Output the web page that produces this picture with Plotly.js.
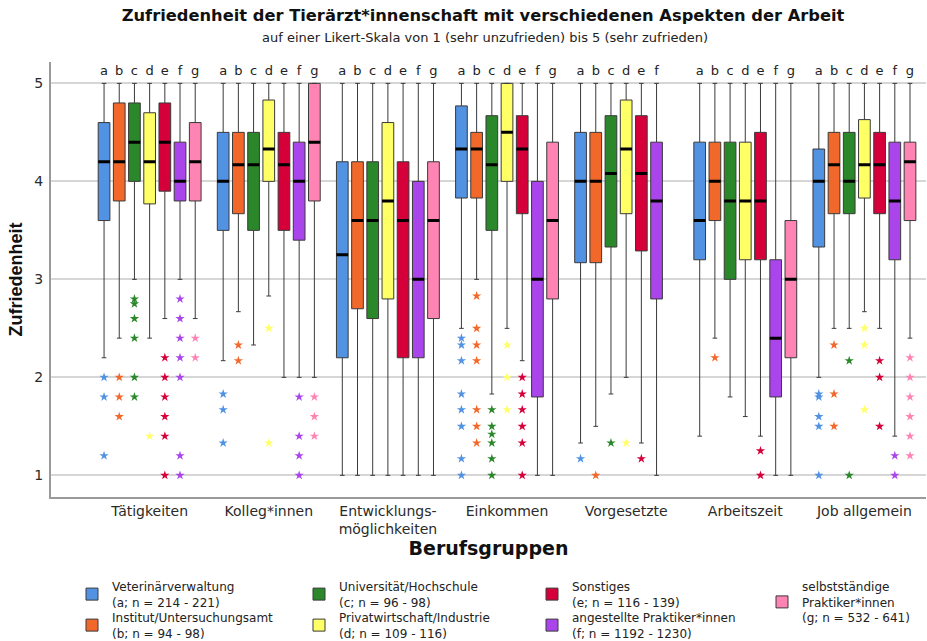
<!DOCTYPE html>
<html>
<head>
<meta charset="utf-8">
<script src="https://cdn.plot.ly/plotly-3.0.1.min.js"></script>
<style>
html, body { margin: 0; padding: 0; background: #ffffff; }
#chart { width: 927px; height: 641px; }
</style>
</head>
<body>
<div id="chart"></div>
<script>
// ---------- data ----------
const categories = ['Tätigkeiten', 'Kolleg*innen', 'Entwicklungsmöglichkeiten', 'Einkommen', 'Vorgesetzte', 'Arbeitszeit', 'Job allgemein'];
const tickLabels = ['Tätigkeiten', 'Kolleg*innen', 'Entwicklungs-<br>möglichkeiten', 'Einkommen', 'Vorgesetzte', 'Arbeitszeit', 'Job allgemein'];
const groupLetters = ['a', 'b', 'c', 'd', 'e', 'f', 'g'];
const groupNames = [
  'Veterinärverwaltung<br>(a; n = 214 - 221)',
  'Institut/Untersuchungsamt<br>(b; n = 94 - 98)',
  'Universität/Hochschule<br>(c; n = 96 - 98)',
  'Privatwirtschaft/Industrie<br>(d; n = 109 - 116)',
  'Sonstiges<br>(e; n = 116 - 139)',
  'angestellte Praktiker*innen<br>(f; n = 1192 - 1230)',
  'selbstständige<br>Praktiker*innen<br>(g; n = 532 - 641)'
];

// one row per group (a..g), one column per category; null = no box
const q3Values = [
  [4.6, 4.5, 4.2, 4.77, 4.5, 4.4, 4.33],
  [4.8, 4.5, 4.2, 4.5, 4.5, 4.4, 4.5],
  [4.8, 4.5, 4.2, 4.67, 4.67, 4.4, 4.5],
  [4.7, 4.83, 4.6, 5.0, 4.83, 4.4, 4.63],
  [4.8, 4.5, 4.2, 4.67, 4.67, 4.5, 4.5],
  [4.4, 4.4, 4.0, 4.0, 4.4, 3.2, 4.4],
  [4.6, 5.0, 4.2, 4.4, null, 3.6, 4.4]
];
const medianValues = [
  [4.2, 4.0, 3.25, 4.33, 4.0, 3.6, 4.0],
  [4.2, 4.17, 3.6, 4.33, 4.0, 4.0, 4.17],
  [4.4, 4.17, 3.6, 4.17, 4.08, 3.8, 4.0],
  [4.2, 4.33, 3.8, 4.5, 4.33, 3.8, 4.17],
  [4.4, 4.17, 3.6, 4.33, 4.08, 3.8, 4.17],
  [4.0, 4.0, 3.0, 3.0, 3.8, 2.4, 3.8],
  [4.2, 4.4, 3.6, 3.6, null, 3.0, 4.2]
];
const q1Values = [
  [3.6, 3.5, 2.2, 3.83, 3.17, 3.2, 3.33],
  [3.8, 3.67, 2.7, 3.83, 3.17, 3.6, 3.67],
  [4.0, 3.5, 2.6, 3.5, 3.33, 3.0, 3.67],
  [3.77, 4.0, 2.8, 4.0, 3.67, 3.2, 3.83],
  [3.9, 3.5, 2.2, 3.67, 3.29, 3.2, 3.67],
  [3.8, 3.4, 2.2, 1.8, 2.8, 1.8, 3.2],
  [3.8, 3.8, 2.6, 2.8, null, 2.2, 3.6]
];
const lowerWhisker = [
  [2.2, 2.17, 1.0, 2.5, 1.33, 1.4, 2.0],
  [2.4, 2.67, 1.0, 3.0, 1.5, 2.4, 2.5],
  [3.0, 2.33, 1.0, 1.83, 1.83, 1.8, 2.5],
  [2.4, 2.83, 1.0, 2.5, 2.0, 1.6, 2.67],
  [2.6, 2.0, 1.0, 2.17, 1.33, 1.4, 2.5],
  [3.0, 2.0, 1.0, 1.0, 1.0, 1.0, 1.4],
  [2.6, 2.0, 1.0, 1.0, null, 1.0, 2.4]
];
const upperWhisker = [
  [5, 5, 5, 5, 5, 5, 5],
  [5, 5, 5, 5, 5, 5, 5],
  [5, 5, 5, 5, 5, 5, 5],
  [5, 5, 5, 5, 5, 5, 5],
  [5, 5, 5, 5, 5, 5, 5],
  [5, 5, 5, 5, 5, 5, 5],
  [5, 5, 5, 5, null, 5, 5]
];
const outlierValues = [
  [[2.0, 1.8, 1.2], [1.83, 1.67, 1.33], [], [2.4, 2.33, 2.17, 1.83, 1.67, 1.5, 1.17, 1.0], [1.17], [], [1.83, 1.8, 1.6, 1.5, 1.0]],
  [[2.0, 1.8, 1.6], [2.33, 2.17], [], [2.83, 2.5, 2.33, 2.17, 1.67, 1.5, 1.33], [1.0], [2.2], [2.33, 1.83, 1.5]],
  [[2.8, 2.75, 2.6, 2.4, 2.0, 1.8], [], [], [1.67, 1.5, 1.42, 1.33, 1.17, 1.0], [1.33], [], [2.17, 1.0]],
  [[1.4], [2.5, 1.33], [], [2.33, 2.0, 1.67], [1.33], [], [2.5, 2.33, 1.67]],
  [[2.2, 2.0, 1.8, 1.6, 1.4, 1.0], [], [], [2.0, 1.83, 1.67, 1.5, 1.33, 1.0], [1.17], [1.25, 1.0], [2.17, 2.0, 1.5]],
  [[2.8, 2.6, 2.4, 2.2, 2.0, 1.2, 1.0], [1.8, 1.4, 1.2, 1.0], [], [], [], [], [1.2, 1.0]],
  [[2.4, 2.2], [1.8, 1.6, 1.4], [], [], null, [], [2.2, 2.0, 1.8, 1.6, 1.4, 1.2]]
];

// ---------- style ----------
const colors = ['#5192e2', '#f2682b', '#2a872a', '#ffff66', '#d5003a', '#aa45ec', '#ff84b3'];
const FONT = 'DejaVu Sans, Verdana, sans-serif';
const legendIds = ['legend', 'legend2', 'legend3', 'legend4', 'legend5', 'legend6', 'legend7'];
const W = 927, H = 641;
const M = { l: 51, r: 1, t: 62, b: 144 };
const PW = W - M.l - M.r, PH = H - M.t - M.b;
// legend item placement (left x, top y) in pixels
const legendPos = [[72, 572], [72, 603], [299, 572], [299, 603], [532, 572], [532, 603], [762, 572]];
const letterY = 5.12;

const traces = [];
const medianTraces = [];
const letterTraces = [];

groupLetters.forEach((letter, gi) => {
  const idx = categories.map((c, i) => i).filter(i => medianValues[gi][i] !== null);
  const xs = idx.map(i => categories[i]);
  const pick = arr => idx.map(i => arr[gi][i]);

  traces.push({
    type: 'box',
    name: groupNames[gi],
    x: xs,
    y: pick(outlierValues),
    q1: pick(q1Values),
    median: pick(medianValues),
    q3: pick(q3Values),
    lowerfence: pick(lowerWhisker),
    upperfence: pick(upperWhisker),
    boxpoints: 'outliers',
    jitter: 0,
    pointpos: 0,
    fillcolor: colors[gi],
    line: { color: '#3a3a3a', width: 1 },
    whiskerwidth: 0.4,
    marker: { symbol: 'star', size: 7, color: colors[gi], line: { width: 0 } },
    offsetgroup: letter,
    alignmentgroup: 'grp',
    legend: legendIds[gi]
  });

  const med = pick(medianValues);
  medianTraces.push({
    type: 'box',
    name: groupNames[gi] + ' Median',
    x: xs,
    q1: med, median: med, q3: med, lowerfence: med, upperfence: med,
    boxpoints: false,
    fillcolor: 'rgba(0,0,0,0)',
    line: { color: '#000000', width: 3 },
    whiskerwidth: 0,
    offsetgroup: letter,
    alignmentgroup: 'grp',
    showlegend: false,
    hoverinfo: 'skip'
  });

  letterTraces.push({
    type: 'scatter',
    mode: 'text',
    x: xs,
    y: xs.map(() => letterY),
    text: xs.map(() => letter),
    textposition: 'middle center',
    textfont: { family: FONT, size: 13, color: '#222222' },
    offsetgroup: letter,
    alignmentgroup: 'grp',
    cliponaxis: false,
    showlegend: false,
    hoverinfo: 'skip'
  });
});

const layout = {
  width: W,
  height: H,
  paper_bgcolor: '#ffffff',
  plot_bgcolor: '#ffffff',
  margin: { l: M.l, r: M.r, t: M.t, b: M.b, pad: 0, autoexpand: false },
  boxmode: 'group',
  boxgap: 0.107,
  boxgroupgap: 0.23,
  scattermode: 'group',
  scattergap: 0.107,
  title: {
    text: 'Zufriedenheit der Tierärzt*innenschaft mit verschiedenen Aspekten der Arbeit',
    font: { family: FONT, size: 16.3, color: '#111111', weight: 'bold' },
    xref: 'container', x: 483 / W, xanchor: 'center',
    yref: 'container', y: 1 - 15 / H, yanchor: 'middle'
  },
  annotations: [{
    text: 'auf einer Likert-Skala von 1 (sehr unzufrieden) bis 5 (sehr zufrieden)',
    font: { family: FONT, size: 13, color: '#222222' },
    xref: 'paper', x: (485 - M.l) / PW, xanchor: 'center',
    yref: 'paper', y: 1 + (M.t - 38) / PH, yanchor: 'middle',
    showarrow: false
  }],
  xaxis: {
    type: 'category',
    categoryorder: 'array',
    categoryarray: categories,
    tickvals: categories,
    ticktext: tickLabels,
    tickangle: 0,
    range: [-0.828, 6.517],
    showgrid: false,
    zeroline: false,
    showline: true,
    linecolor: '#9a9a9a',
    linewidth: 2,
    ticks: '',
    automargin: false,
    tickfont: { family: FONT, size: 14, color: '#2a2a2a' },
    title: {
      text: 'Berufsgruppen',
      font: { family: FONT, size: 19, color: '#111111', weight: 'bold' },
      standoff: 4
    }
  },
  yaxis: {
    range: [0.779, 5.218],
    tickvals: [1, 2, 3, 4, 5],
    ticktext: ['1', '2', '3', '4', '5'],
    showgrid: true,
    gridcolor: '#d6d6d6',
    gridwidth: 2,
    zeroline: false,
    showline: true,
    linecolor: '#9a9a9a',
    linewidth: 2,
    ticks: '',
    automargin: false,
    ticklabelstandoff: 3,
    tickfont: { family: FONT, size: 14, color: '#2a2a2a' },
    title: {
      text: 'Zufriedenheit',
      font: { family: 'Liberation Sans, Arial, sans-serif', size: 18, color: '#111111', weight: 'bold' },
      standoff: 7
    }
  },
  showlegend: true
};

legendIds.forEach((id, i) => {
  layout[id] = {
    orientation: 'v',
    xref: 'paper', yref: 'paper',
    x: (legendPos[i][0] - M.l) / PW, xanchor: 'left',
    y: (M.t + PH - legendPos[i][1]) / PH, yanchor: 'top',
    bgcolor: 'rgba(0,0,0,0)',
    borderwidth: 0,
    font: { family: FONT, size: 12, color: '#222222' },
    itemclick: false,
    itemdoubleclick: false
  };
});

Plotly.newPlot('chart', traces.concat(medianTraces, letterTraces), layout, { displayModeBar: false, staticPlot: true });
</script>
</body>
</html>
